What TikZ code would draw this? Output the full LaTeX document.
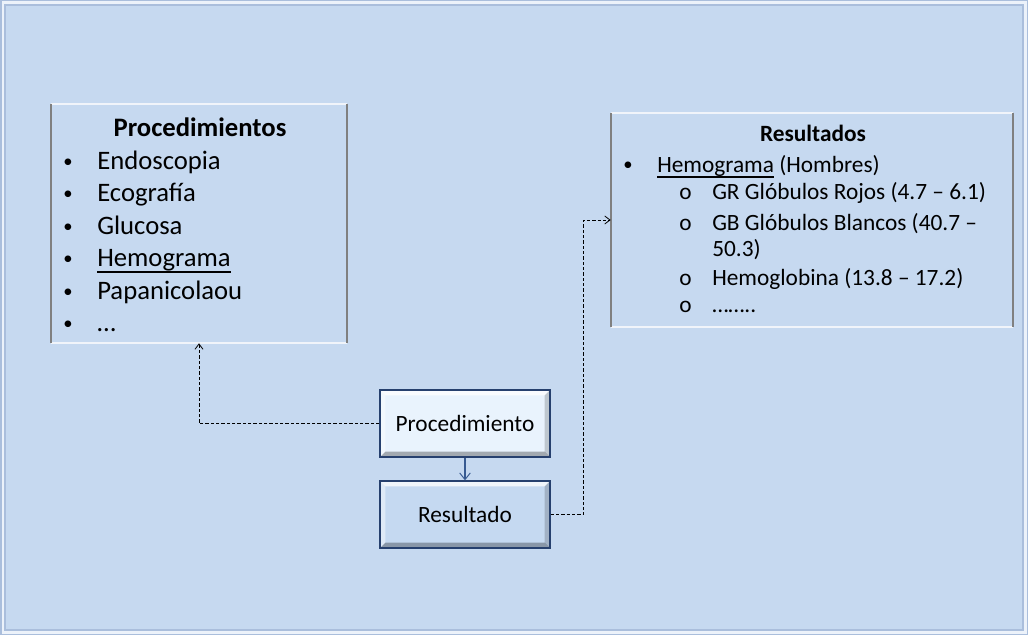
\documentclass[tikz,border=0pt]{standalone}
\usepackage{fontspec}
\setmainfont{Carlito}
\usetikzlibrary{arrows.meta}
\definecolor{bg}{RGB}{198,217,240}
\definecolor{frameline}{RGB}{170,190,220}
\definecolor{framelight}{RGB}{236,242,250}
\definecolor{panelside}{RGB}{128,128,128}
\definecolor{paneltop}{RGB}{240,244,250}
\definecolor{btnborder}{RGB}{38,64,110}
\definecolor{btnlight}{RGB}{233,243,253}
\definecolor{btndark}{RGB}{197,217,241}
\definecolor{arrowblue}{RGB}{55,90,145}
\newcommand\myul[2]{\setbox0\hbox{#2}\rlap{\rule[-#1]{\wd0}{1.1pt}}\box0\relax}
\newcommand\mybul{\raisebox{1.2pt}{\fontsize{14}{14}\selectfont •}}
\tikzset{
  panel/.style={inner sep=0, fill=bg},
  sideline/.style={draw=panelside, line width=1.2pt},
  topline/.style={draw=paneltop, line width=1.2pt},
  btn/.style={draw=btnborder, line width=1pt, inner sep=0,
    minimum width=127.5pt, minimum height=50.25pt,
    font=\fontsize{17.5}{21}\selectfont,
    path picture={
      \fill[white,opacity=0.75] (path picture bounding box.north west) -- (path picture bounding box.north east)
        -- ([xshift=-4pt,yshift=-4pt]path picture bounding box.north east) -- ([xshift=4pt,yshift=-4pt]path picture bounding box.north west) -- cycle;
      \fill[white,opacity=0.45] (path picture bounding box.north west) -- (path picture bounding box.south west)
        -- ([xshift=4pt,yshift=4pt]path picture bounding box.south west) -- ([xshift=4pt,yshift=-4pt]path picture bounding box.north west) -- cycle;
      \fill[black,opacity=0.30] (path picture bounding box.south west) -- (path picture bounding box.south east)
        -- ([xshift=-4pt,yshift=4pt]path picture bounding box.south east) -- ([xshift=4pt,yshift=4pt]path picture bounding box.south west) -- cycle;
      \fill[black,opacity=0.18] (path picture bounding box.north east) -- (path picture bounding box.south east)
        -- ([xshift=-4pt,yshift=4pt]path picture bounding box.south east) -- ([xshift=-4pt,yshift=-4pt]path picture bounding box.north east) -- cycle;
    }},
  ltext/.style={anchor=base west, inner sep=0, font=\fontsize{20}{24}\selectfont},
  rtext/.style={anchor=base west, inner sep=0, font=\fontsize{17.5}{21}\selectfont},
  dasharrow/.style={draw=black, line width=0.75pt, dash pattern=on 2.5pt off 1.5pt,
    -{Straight Barb[length=4pt,width=6pt,line width=0.6pt]}},
  solidarrow/.style={draw=arrowblue, line width=0.8pt,
    -{Straight Barb[length=5pt,width=8pt,line width=0.7pt]}}
}
\begin{document}
\begin{tikzpicture}[x=0.75pt,y=-0.75pt]
\useasboundingbox (0,0) rectangle (1028,635);
% background frame
\fill[frameline] (0,0) rectangle (1028,635);
\fill[framelight] (1.5,1.5) rectangle (1026.5,633.5);
\fill[frameline] (4,4) rectangle (1024,631);
\fill[bg] (6,6) rectangle (1022,629);

% left panel
\node[panel, minimum width=222pt, minimum height=179.25pt] (procs) at (199,223.5) {};
\draw[topline] (procs.north west) -- (procs.north east);
\draw[topline] (procs.south west) -- (procs.south east);
\draw[sideline] (procs.north west) -- (procs.south west);
\draw[sideline] (procs.north east) -- (procs.south east);

\node[ltext, anchor=base, font=\fontsize{20}{24}\selectfont\bfseries] (ptitle) at (200,137) {Procedimientos};
\node[ltext] (pb1) at (63,169) {\mybul};
\node[ltext] (pi1) at (97,169) {Endoscopia};
\node[ltext] (pb2) at (63,201.5) {\mybul};
\node[ltext] (pi2) at (97,201.5) {Ecografía};
\node[ltext] (pb3) at (63,234) {\mybul};
\node[ltext] (pi3) at (97,234) {Glucosa};
\node[ltext] (pb4) at (63,266.5) {\mybul};
\node[ltext] (pi4) at (97,266.5) {\myul{4.6pt}{Hemograma}};
\node[ltext] (pb5) at (63,299) {\mybul};
\node[ltext] (pi5) at (97,299) {Papanicolaou};
\node[ltext] (pb6) at (63,331.5) {\mybul};
\node[ltext] (pi6) at (97,331.5) {…};

% right panel
\node[panel, minimum width=301.5pt, minimum height=160.5pt] (resbox) at (812,220) {};
\draw[topline] (resbox.north west) -- (resbox.north east);
\draw[topline] (resbox.south west) -- (resbox.south east);
\draw[sideline] (resbox.north west) -- (resbox.south west);
\draw[sideline] (resbox.north east) -- (resbox.south east);

\node[rtext, anchor=base, font=\fontsize{17.5}{21}\selectfont\bfseries] (rtitle) at (813,141.5) {Resultados};
\node[rtext] (rb1) at (623,172.5) {\mybul};
\node[rtext] (ri1) at (657,172.5) {\myul{4pt}{Hemograma} (Hombres)};
\node[rtext] (rs1) at (679,199.5) {o};
\node[rtext] (rj1) at (712,199.5) {GR Glóbulos Rojos (4.7 – 6.1)};
\node[rtext] (rs2) at (679,230.5) {o};
\node[rtext] (rj2) at (712,230.5) {GB Glóbulos Blancos (40.7 –};
\node[rtext] (rj2b) at (712,256.5) {50.3)};
\node[rtext] (rs3) at (679,285) {o};
\node[rtext] (rj3) at (712,285) {Hemoglobina (13.8 – 17.2)};
\node[rtext] (rs4) at (679,312) {o};
\node[rtext] (rj4) at (712,312) {……..};

% buttons
\node[btn, fill=btnlight] (proc) at (465,423.5) {Procedimiento};
\node[btn, fill=btndark] (res) at (465,514.5) {Resultado};

% connectors
\draw[solidarrow] (proc.south) -- (res.north);
\draw[dasharrow] (proc.west) -| (procs.south);
\draw[dasharrow] (res.east) -- ++(33,0) |- (resbox.west);
\end{tikzpicture}
\end{document}
